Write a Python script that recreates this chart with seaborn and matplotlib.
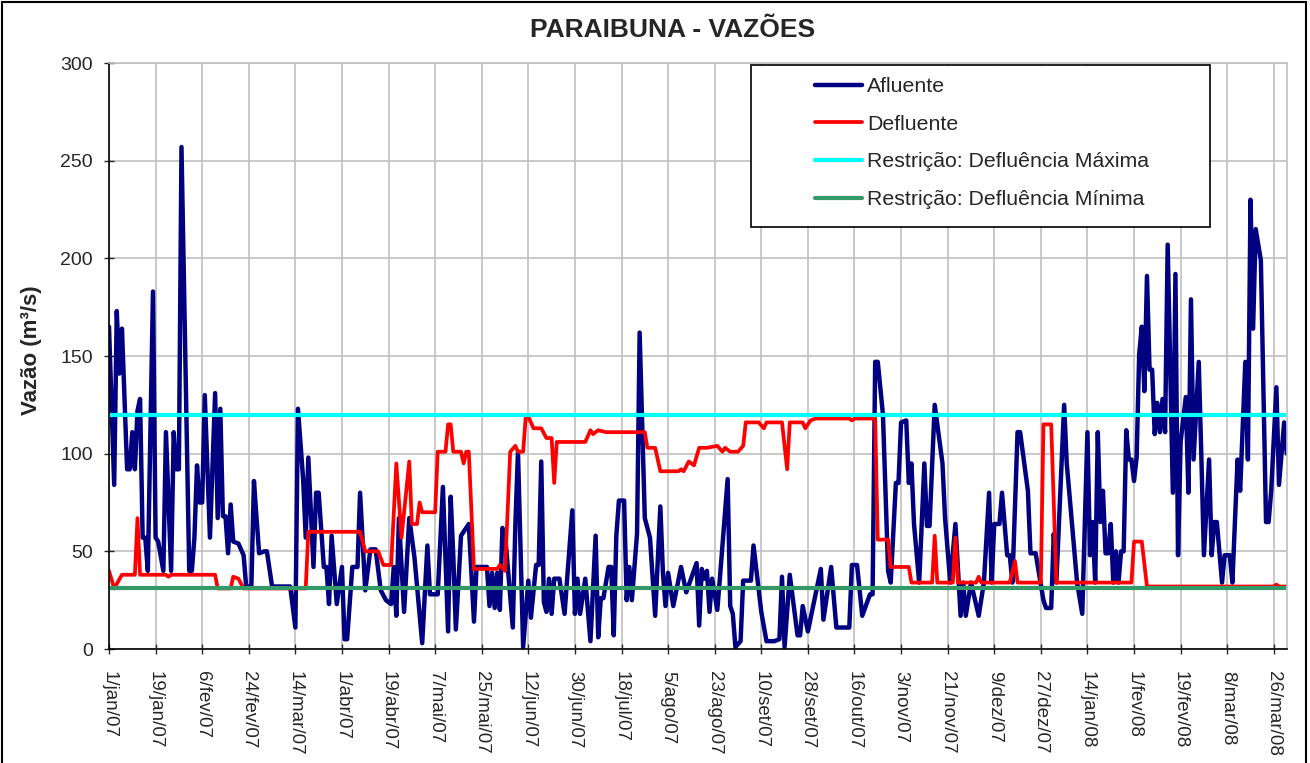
import pandas as pd
import seaborn as sns
import matplotlib.pyplot as plt
from matplotlib.patches import Rectangle

# dias contados a partir de 1/jan/07 e vazões (m³/s)
afluente_dias = [0, 2, 3, 4, 5, 7, 8, 9, 10, 11, 12, 13, 14, 15, 17, 18, 19, 21, 22, 24,
                 25, 26, 27, 28, 31, 32, 33, 34, 35, 36, 37, 39, 41, 42, 43, 44, 45, 46, 47, 48,
                 50, 52, 53, 55, 56, 57, 58, 60, 61, 63, 70, 72, 73, 75, 76, 77, 79, 80, 81, 83,
                 84, 85, 86, 88, 90, 91, 92, 94, 96, 97, 99, 101, 103, 105, 107, 109, 110, 111, 112, 114,
                 116, 118, 121, 123, 124, 127, 129, 131, 132, 133, 134, 136, 139, 141, 142, 146, 147, 148, 149, 150,
                 151, 152, 153, 156, 157, 158, 160, 162, 163, 165, 166, 167, 168, 169, 170, 171, 172, 174, 176, 177,
                 179, 180, 181, 182, 184, 186, 188, 189, 190, 191, 193, 194, 195, 196, 197, 199, 200, 201, 202, 204,
                 205, 207, 209, 211, 213, 214, 215, 216, 218, 221, 223, 227, 228, 229, 230, 231, 232, 233, 235, 236,
                 239, 240, 241, 242, 244, 245, 248, 249, 252, 254, 257, 259, 260, 261, 263, 266, 267, 268, 270, 275,
                 276, 279, 281, 286, 287, 289, 291, 294, 295, 296, 297, 299, 301, 302, 304, 305, 306, 308, 309, 310,
                 311, 313, 315, 316, 317, 319, 322, 323, 325, 327, 329, 330, 331, 333, 336, 338, 340, 341, 342, 344,
                 345, 347, 348, 349, 351, 352, 355, 356, 358, 360, 361, 362, 364, 365, 366, 369, 370, 371, 373, 374,
                 376, 378, 379, 380, 381, 382, 383, 384, 385, 386, 387, 388, 389, 390, 391, 392, 393, 394, 395, 396,
                 397, 398, 399, 400, 401, 402, 403, 404, 405, 406, 407, 408, 409, 411, 412, 413, 414, 416, 417, 418,
                 419, 421, 422, 423, 425, 426, 427, 428, 430, 431, 433, 434, 436, 437, 439, 440, 441, 442, 443, 445,
                 447, 448, 449, 451, 452, 454, 455]
afluente_vazao = [165, 84, 173, 141, 164, 92, 92, 111, 92, 122, 128, 57, 57, 40, 183, 57, 55, 40, 111, 40,
                  111, 92, 92, 257, 40, 40, 57, 94, 75, 75, 130, 57, 131, 67, 123, 68, 68, 49, 74, 55,
                  54, 48, 32, 32, 86, 67, 49, 50, 50, 32, 32, 11, 123, 87, 57, 98, 42, 80, 80, 42,
                  42, 23, 58, 23, 42, 5, 5, 42, 42, 80, 30, 51, 51, 30, 25, 23, 42, 17, 67, 19,
                  67, 47, 3, 53, 28, 28, 83, 9, 78, 48, 10, 58, 64, 14, 42, 42, 22, 39, 21, 39,
                  20, 62, 59, 11, 64, 101, 1, 35, 16, 43, 43, 96, 24, 19, 36, 18, 36, 36, 18, 36,
                  71, 18, 36, 18, 36, 4, 58, 6, 26, 26, 42, 42, 7, 58, 76, 76, 25, 42, 25, 59,
                  162, 67, 57, 17, 73, 39, 22, 39, 22, 42, 29, 44, 12, 41, 36, 40, 19, 36, 20, 36,
                  87, 22, 18, 1, 4, 35, 35, 53, 19, 4, 4, 5, 37, 1, 38, 7, 7, 22, 9, 41,
                  15, 42, 11, 11, 43, 43, 17, 28, 28, 147, 147, 120, 40, 34, 85, 85, 116, 117, 85, 95,
                  64, 34, 95, 63, 63, 125, 95, 67, 34, 64, 17, 34, 17, 34, 17, 34, 80, 34, 64, 64,
                  80, 48, 48, 34, 111, 111, 81, 49, 49, 33, 25, 21, 21, 59, 34, 125, 95, 80, 49, 34,
                  18, 111, 48, 65, 34, 111, 65, 81, 49, 49, 64, 34, 50, 34, 50, 50, 112, 97, 97, 86,
                  98, 151, 165, 132, 191, 143, 143, 110, 126, 111, 128, 111, 207, 80, 192, 48, 106, 129, 80, 179,
                  97, 147, 99, 48, 97, 48, 65, 65, 34, 48, 48, 34, 97, 81, 147, 97, 230, 164, 215, 199,
                  65, 65, 81, 134, 84, 116, 100]

defluente_dias = [0, 2, 5, 10, 11, 12, 22, 23, 24, 41, 42, 47, 48, 50, 52, 76, 77, 97, 99, 104,
                  106, 109, 111, 113, 116, 117, 119, 120, 121, 126, 127, 130, 131, 132, 133, 136, 137, 138, 139, 141,
                  150, 151, 153, 155, 157, 158, 160, 161, 162, 164, 167, 169, 171, 172, 173, 184, 186, 187, 189, 192,
                  207, 208, 211, 213, 220, 221, 222, 224, 226, 228, 231, 235, 237, 238, 240, 243, 245, 246, 251, 253,
                  254, 260, 262, 263, 268, 269, 271, 273, 286, 287, 288, 296, 297, 301, 302, 309, 310, 318, 319, 320,
                  326, 327, 328, 335, 336, 337, 348, 350, 351, 360, 361, 364, 366, 395, 396, 399, 401, 450, 451, 452,
                  455]
defluente_vazao = [40, 31, 38, 38, 67, 38, 38, 37, 38, 38, 31, 31, 37, 36, 31, 31, 60, 60, 50, 50,
                   43, 43, 95, 57, 96, 64, 64, 75, 70, 70, 101, 101, 115, 115, 101, 101, 95, 101, 101, 41,
                   41, 43, 40, 101, 104, 101, 101, 119, 119, 113, 113, 108, 108, 85, 106, 106, 112, 110, 112, 111,
                   111, 103, 103, 91, 91, 92, 91, 96, 94, 103, 103, 104, 101, 103, 101, 101, 104, 116, 116, 113,
                   116, 116, 92, 116, 116, 113, 117, 118, 118, 117, 118, 118, 56, 56, 42, 42, 34, 34, 58, 34,
                   34, 57, 34, 34, 37, 34, 34, 45, 34, 34, 115, 115, 34, 34, 55, 55, 32, 32, 33, 32,
                   32]

restricao_max = 120
restricao_min = 31

meses = ["jan", "fev", "mar", "abr", "mai", "jun", "jul", "ago", "set", "out", "nov", "dez"]

inicio = pd.Timestamp("2007-01-01")
afl = pd.DataFrame({"data": inicio + pd.to_timedelta(afluente_dias, unit="D"), "vazao": afluente_vazao})
dfl = pd.DataFrame({"data": inicio + pd.to_timedelta(defluente_dias, unit="D"), "vazao": defluente_vazao})

sns.set_style("white")
plt.rcParams['font.family'] = ['Liberation Sans', 'DejaVu Sans']

fig = plt.figure(figsize=(13.1, 7.63), dpi=100)
ax = fig.add_axes([109 / 1310, 1 - 649 / 763, 1178 / 1310, 586 / 763])

sns.lineplot(data=afl, x="data", y="vazao", ax=ax, color="#000080", linewidth=3.2, label="Afluente")
sns.lineplot(data=dfl, x="data", y="vazao", ax=ax, color="#FF0000", linewidth=2.7, label="Defluente")
ax.axhline(restricao_max, color="#00FFFF", linewidth=3.0, label="Restrição: Defluência Máxima")
ax.axhline(restricao_min, color="#339966", linewidth=3.0, label="Restrição: Defluência Mínima")

# eixo x: marcas a cada 18 dias
ticks = pd.date_range(inicio, periods=26, freq="18D")
ax.set_xticks(ticks)
ax.set_xticklabels([f"{d.day}/{meses[d.month - 1]}/{d:%y}" for d in ticks], rotation=-90, fontsize=13.5)
ax.set_xlim(inicio, inicio + pd.Timedelta(days=455.1))
ax.set_ylim(0, 300)
ax.set_yticks(range(0, 301, 50))
ax.tick_params(axis="y", labelsize=14, length=7, width=1, direction="inout", left=True, pad=8)
ax.tick_params(axis="x", length=7, width=1, direction="inout", bottom=True, pad=12)

ax.grid(True, color="#c0c0c0", linewidth=1.2)
ax.set_axisbelow(True)
for lado in ["top", "right"]:
    ax.spines[lado].set_color("#c0c0c0")
    ax.spines[lado].set_linewidth(1.2)
for lado in ["left", "bottom"]:
    ax.spines[lado].set_color("black")
    ax.spines[lado].set_linewidth(1.2)

ax.set_xlabel("")
ax.set_ylabel("Vazão (m³/s)", fontsize=16, fontweight="bold")
ax.yaxis.set_label_coords((42 - 109.3) / 1178, 0.51)
fig.text(673 / 1310, 1 - 37 / 763, "PARAIBUNA - VAZÕES", ha="center", va="baseline",
         fontsize=19, fontweight="bold")

# legenda com moldura própria
ax.legend(loc="upper left", bbox_to_anchor=((815 - 109) / 1178, (649 - 77) / 586), frameon=False,
          fontsize=15.3, handlelength=2.2, handletextpad=0.25, labelspacing=0.88, borderpad=0,
          borderaxespad=0)
ax.add_patch(Rectangle(((751 - 109) / 1178, (649 - 227) / 586), (1210 - 751) / 1178, (227 - 65) / 586,
                       transform=ax.transAxes, facecolor="white", edgecolor="black", linewidth=1.2,
                       zorder=4))

fig.patches.append(Rectangle((1.5 / 1310, -0.01), 1304 / 1310, 1.0 - 1.5 / 763 + 0.01,
                             transform=fig.transFigure, fill=False, edgecolor="black", linewidth=1.5))

fig.savefig("out.png", dpi=100)
